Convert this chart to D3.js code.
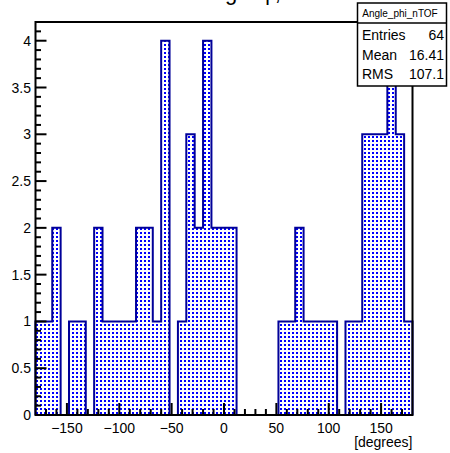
<!DOCTYPE html>
<html>
<head>
<meta charset="utf-8">
<script src="https://cdn.jsdelivr.net/npm/d3@7/dist/d3.min.js"></script>
<style>
  html, body { margin: 0; padding: 0; background: #fff; }
  svg { display: block; }
  text { font-family: "Liberation Sans", Arial, Helvetica, sans-serif; }
</style>
</head>
<body>
<svg id="chart" width="450" height="453"></svg>
<script>
// ---- Data ----
const title = "Angle \u03c6, nTOF";
const histName = "Angle_phi_nTOF";
const xAxisTitle = "[degrees]";
const binLow = -180;
const binWidth = 8;
const counts = [1,1,2,0,1,1,0,2,1,1,1,1,2,2,1,4,0,1,3,2,4,2,2,2,
                0,0,0,0,0,1,1,2,1,1,1,1,0,1,1,3,3,3,4,3,1];
const xTicks = [-150,-100,-50,0,50,100,150];
const yTicks = [0,0.5,1,1.5,2,2.5,3,3.5,4];
const statLabels = ["Entries","Mean","RMS"];
const statValues = ["64","16.41","107.1"];

(function () {
// ---- Layout ----
const svg = d3.select("#chart");
const W = 450, H = 453;
svg.append("rect").attr("width", W).attr("height", H).attr("fill", "#fff");

const pL = 35.5, pR = 412.5, pT = 22, pB = 415;
const x = d3.scaleLinear().domain([-180, 180]).range([pL, pR]);
const y = d3.scaleLinear().domain([0, 4.2]).range([pB, pT]);

// pattern
const defs = svg.append("defs");
const pat = defs.append("pattern").attr("id", "dots")
  .attr("patternUnits", "userSpaceOnUse").attr("width", 4).attr("height", 4);
pat.append("rect").attr("x", 0).attr("y", 0).attr("width", 2).attr("height", 2).attr("fill", "#0000ff");

// histogram path
let pts = [[x(binLow), y(0)]];
counts.forEach((c, i) => {
  const x0 = x(binLow + i * binWidth), x1 = x(binLow + (i + 1) * binWidth);
  pts.push([x0, y(c)]);
  pts.push([x1, y(c)]);
});
pts.push([x(binLow + counts.length * binWidth), y(0)]);
const line = d3.line();
svg.append("path").attr("d", line(pts) + "Z")
  .attr("fill", "url(#dots)").attr("stroke", "none");
svg.append("path").attr("d", line(pts))
  .attr("fill", "none").attr("stroke", "#000099").attr("stroke-width", 2)
  .attr("stroke-linejoin", "miter");

// frame
svg.append("rect").attr("x", pL).attr("y", pT)
  .attr("width", pR - pL).attr("height", pB - pT)
  .attr("fill", "none").attr("stroke", "#000").attr("stroke-width", 2);

// x ticks
const xMinor = d3.range(-170, 171, 10);
svg.append("g").selectAll("line").data(xMinor).join("line")
  .attr("x1", d => x(d)).attr("x2", d => x(d))
  .attr("y1", pB).attr("y2", d => pB - (d % 50 === 0 ? 12 : 6))
  .attr("stroke", "#000").attr("stroke-width", 2);
svg.append("g").selectAll("text").data(xTicks).join("text")
  .attr("x", d => x(d)).attr("y", 433)
  .attr("text-anchor", "middle").attr("font-size", 14)
  .text(d => d3.format("d")(d));

// y ticks
const yMinor = d3.range(0, 42, 1).map(v => v / 10);
svg.append("g").selectAll("line").data(yMinor).join("line")
  .attr("y1", d => y(d)).attr("y2", d => y(d))
  .attr("x1", pL).attr("x2", (d, i) => pL + (i % 5 === 0 ? 11 : 5.5))
  .attr("stroke", "#000").attr("stroke-width", 2);
svg.append("g").selectAll("text").data(yTicks).join("text")
  .attr("x", 31).attr("y", d => y(d) + 5)
  .attr("text-anchor", "end").attr("font-size", 14)
  .text(d => d3.format("")(d));

// axis title
svg.append("text").attr("x", pR).attr("y", 447)
  .attr("text-anchor", "end").attr("font-size", 14).text(xAxisTitle);

// title (mostly cut off at top)
svg.append("text").attr("x", 198).attr("y", 0)
  .attr("font-size", 22).text(title);

// stats box
const bx = 357.5, by = 3, bw = 89, bh = 83;
svg.append("rect").attr("x", bx).attr("y", by).attr("width", bw).attr("height", bh)
  .attr("fill", "#fff").attr("stroke", "#000").attr("stroke-width", 1.5);
svg.append("line").attr("x1", bx).attr("x2", bx + bw).attr("y1", 23).attr("y2", 23)
  .attr("stroke", "#000").attr("stroke-width", 1.5);
svg.append("text").attr("x", bx + bw / 2 - 2).attr("y", 17)
  .attr("text-anchor", "middle").attr("font-size", 10).text(histName);
statLabels.forEach((l, i) => {
  svg.append("text").attr("x", 362).attr("y", 40 + i * 19.5)
    .attr("font-size", 14).text(l);
  svg.append("text").attr("x", 444).attr("y", 40 + i * 19.5)
    .attr("text-anchor", "end").attr("font-size", 14).text(statValues[i]);
});
})();
</script>
</body>
</html>
